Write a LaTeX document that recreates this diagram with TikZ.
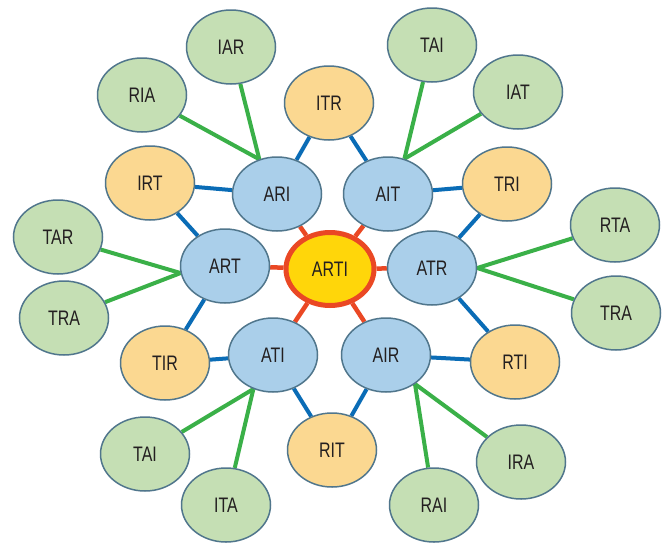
\documentclass[tikz,border=0pt]{standalone}
\usepackage{fontspec}
\setmainfont{Liberation Sans}[FakeStretch=0.76]
\usetikzlibrary{shapes.geometric}
\pgfdeclarelayer{bg}
\pgfdeclarelayer{paper}
\pgfsetlayers{paper,bg,main}

\definecolor{nodeedge}{RGB}{80,118,140}
\definecolor{bluefill}{RGB}{170,207,234}
\definecolor{orangefill}{RGB}{251,216,145}
\definecolor{greenfill}{RGB}{197,223,180}
\definecolor{corefill}{RGB}{255,214,10}
\definecolor{corered}{RGB}{234,72,36}
\definecolor{blueline}{RGB}{10,108,182}
\definecolor{greenline}{RGB}{58,176,72}
\definecolor{labelgray}{RGB}{35,31,32}

\tikzset{
  bubble/.style={ellipse, draw=nodeedge, line width=1.5pt, minimum width=89pt,
    minimum height=74pt, inner sep=0pt, text=labelgray,
    font=\fontsize{21}{23}\selectfont},
  bluenode/.style={bubble, fill=bluefill},
  orangenode/.style={bubble, fill=orangefill},
  greennode/.style={bubble, fill=greenfill},
  corenode/.style={bubble, fill=corefill, draw=corered, line width=5pt,
    minimum width=88pt, minimum height=73pt},
  ringlink/.style={draw=blueline, line width=4pt},
  leaflink/.style={draw=greenline, line width=4pt},
  spoke/.style={draw=corered, line width=4.5pt},
}

\begin{document}
\begin{tikzpicture}[x=1pt,y=-1pt]
\begin{pgfonlayer}{paper}
  \useasboundingbox[fill=white] (0,0) rectangle (666,544);
\end{pgfonlayer}

% centre
\node[corenode] (ARTI) at (330,269) {ARTI};

% inner ring
\node[bluenode] (ARI) at (277,194) {ARI};
\node[bluenode] (AIT) at (388,194) {AIT};
\node[bluenode] (ART) at (225,266) {ART};
\node[bluenode] (ATR) at (432,268) {ATR};
\node[bluenode] (ATI) at (273,355) {ATI};
\node[bluenode] (AIR) at (386,355) {AIR};

% middle ring
\node[orangenode] (ITR) at (329,103) {ITR};
\node[orangenode] (IRT) at (150,183) {IRT};
\node[orangenode] (TRI) at (507,184) {TRI};
\node[orangenode] (TIR) at (165,363) {TIR};
\node[orangenode] (RTI) at (515,362) {RTI};
\node[orangenode] (RIT) at (332,450) {RIT};

% outer leaves
\node[greennode] (IAR)  at (231,47)  {IAR};
\node[greennode] (RIA)  at (142,95)  {RIA};
\node[greennode] (TAIa) at (432,45)  {TAI};
\node[greennode] (IAT)  at (518,92)  {IAT};
\node[greennode] (TAR)  at (58,237)  {TAR};
\node[greennode] (TRAa) at (64,318)  {TRA};
\node[greennode] (RTA)  at (615,225) {RTA};
\node[greennode] (TRAb) at (616,313) {TRA};
\node[greennode] (TAIb) at (145,454) {TAI};
\node[greennode] (ITA)  at (226,505) {ITA};
\node[greennode] (RAI)  at (434,505) {RAI};
\node[greennode] (IRA)  at (521,462) {IRA};

\begin{pgfonlayer}{bg}
  % red spokes from the centre
  \foreach \n in {ARI,AIT,ART,ATR,ATI,AIR}
    \draw[spoke] (ARTI) -- (\n);
  % blue ring
  \draw[ringlink] (ARI) -- (ITR);
  \draw[ringlink] (ITR) -- (AIT);
  \draw[ringlink] (AIT) -- (TRI);
  \draw[ringlink] (TRI) -- (ATR);
  \draw[ringlink] (ATR) -- (RTI);
  \draw[ringlink] (RTI) -- (AIR);
  \draw[ringlink] (AIR) -- (RIT);
  \draw[ringlink] (RIT) -- (ATI);
  \draw[ringlink] (ATI) -- (TIR);
  \draw[ringlink] (TIR) -- (ART);
  \draw[ringlink] (ART) -- (IRT);
  \draw[ringlink] (IRT) -- (ARI);
  % green leaves
  \draw[leaflink] (ARI.117) -- (RIA);
  \draw[leaflink] (ARI.117) -- (IAR);
  \draw[leaflink] (AIT.65) -- (TAIa);
  \draw[leaflink] (AIT.65) -- (IAT);
  \draw[leaflink] (ART.189) -- (TAR);
  \draw[leaflink] (ART.189) -- (TRAa);
  \draw[leaflink] (ATR.east) -- (RTA);
  \draw[leaflink] (ATR.east) -- (TRAb);
  \draw[leaflink] (ATI.240) -- (TAIb);
  \draw[leaflink] (ATI.240) -- (ITA);
  \draw[leaflink] (AIR.315) -- (RAI);
  \draw[leaflink] (AIR.315) -- (IRA);
\end{pgfonlayer}
\end{tikzpicture}
\end{document}
